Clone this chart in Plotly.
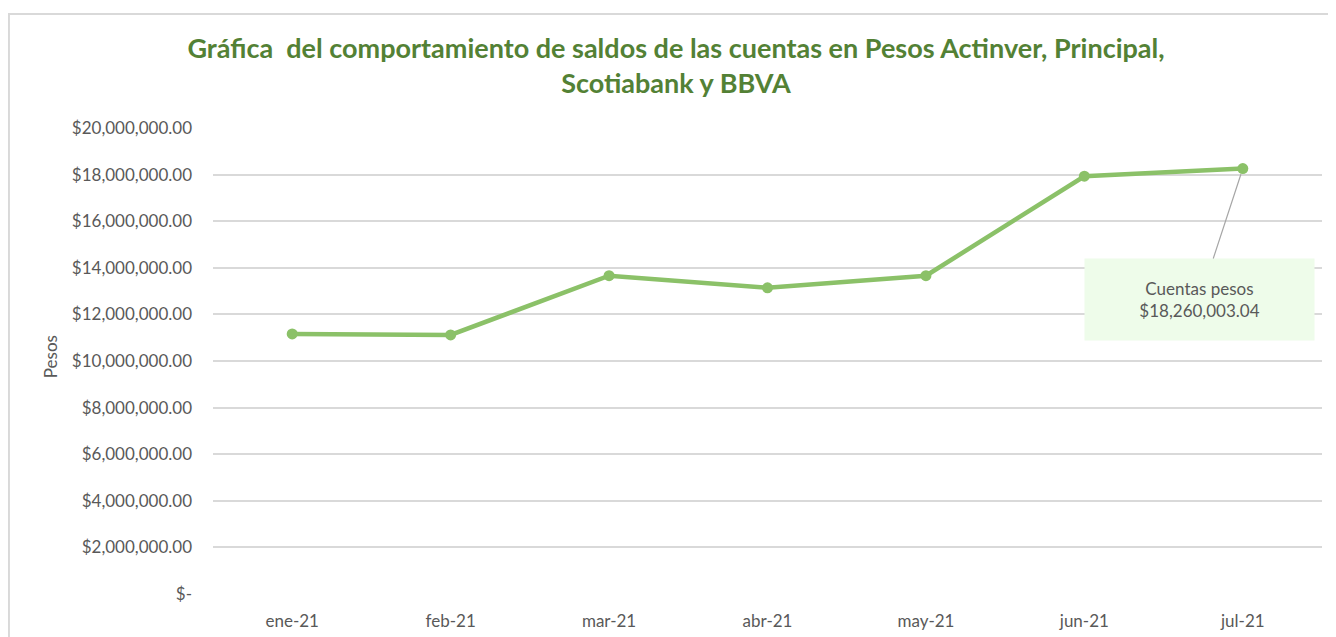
"""Saldos de cuentas en pesos (Actinver, Principal, Scotiabank, BBVA)."""

import plotly.graph_objects as go

months = ["ene-21", "feb-21", "mar-21", "abr-21", "may-21", "jun-21", "jul-21"]
saldos = [11160000, 11120000, 13660000, 13140000, 13660000, 17930000, 18260003.04]
y_ticks = [0, 2e6, 4e6, 6e6, 8e6, 10e6, 12e6, 14e6, 16e6, 18e6, 20e6]

GREEN = "#8BC168"
GRAY_TXT = "#595959"
FONT = "Lato"


def money(v):
    return "$-" if v == 0 else f"${v:,.2f}"


fig = go.Figure()

fig.add_trace(go.Scatter(
    x=months,
    y=saldos,
    mode="lines+markers",
    name="Cuentas pesos",
    line=dict(color=GREEN, width=4.5),
    marker=dict(color=GREEN, size=11),
))

fig.add_annotation(
    x=months[-1], y=saldos[-1],
    text=f"Cuentas pesos<br>{money(saldos[-1])}",
    showarrow=True, arrowhead=0, arrowwidth=1.2, arrowcolor="#a6a6a6",
    ax=-43, ay=131,
    width=227, height=79,
    bgcolor="#EEFCEA",
    font=dict(family=FONT, size=17, color=GRAY_TXT),
    standoff=6,
)

# y axis title as a free annotation
fig.add_annotation(
    xref="paper", yref="paper", x=-0.1575, y=0.51,
    text="Pesos", showarrow=False, textangle=-90,
    font=dict(family=FONT, size=17, color=GRAY_TXT),
)

# chart area border
fig.add_shape(
    type="rect", xref="paper", yref="paper",
    x0=-0.1840, x1=1.06, y0=-0.2, y1=1.2446,
    line=dict(color="#d9d9d9", width=2), layer="below",
)

fig.update_layout(
    width=1336, height=637,
    margin=dict(l=205, r=22, t=120, b=51),
    paper_bgcolor="white", plot_bgcolor="white",
    showlegend=False,
    title=dict(
        text="Gráfica  del comportamiento de saldos de las cuentas en Pesos Actinver, Principal,<br>Scotiabank y BBVA",
        x=0.5, xanchor="center", y=0.922, yanchor="middle",
        font=dict(family=FONT, size=27, color="#538135", weight="bold"),
    ),
    xaxis=dict(
        range=[-0.5, 6.5],
        showgrid=False, showline=False, zeroline=False,
        ticklabelstandoff=15,
        tickfont=dict(family=FONT, size=17, color=GRAY_TXT),
    ),
    yaxis=dict(
        range=[0, 20e6],
        tickvals=y_ticks,
        ticktext=[money(v) for v in y_ticks],
        gridcolor="#d9d9d9", gridwidth=1.5,
        zeroline=False, showline=False,
        ticklabelstandoff=20,
        tickfont=dict(family=FONT, size=17, color=GRAY_TXT),
    ),
)

fig.write_html("out.html")
